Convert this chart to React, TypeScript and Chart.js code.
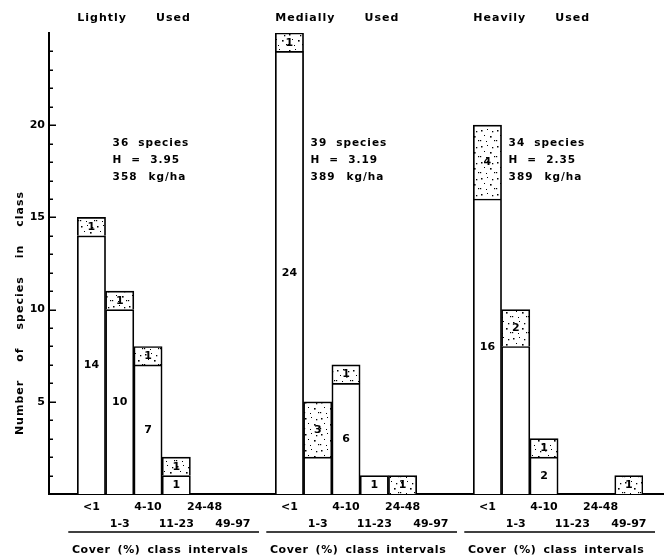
import { useEffect, useRef } from "react";
import { Chart, registerables } from "chart.js";

Chart.register(...registerables);

// ---- data ----
const groupTitles = [
  ["Lightly", "Used"],
  ["Medially", "Used"],
  ["Heavily", "Used"],
];
const coverClasses = ["<1", "1-3", "4-10", "11-23", "24-48", "49-97"];

const lightlyWhite = [14, 10, 7, 1, 0, 0];
const lightlyStipple = [1, 1, 1, 1, 0, 0];
const mediallyWhite = [24, 2, 6, 1, 0, 0];
const mediallyStipple = [1, 3, 1, 0, 1, 0];
const heavilyWhite = [16, 8, 2, 0, 0, 0];
const heavilyStipple = [4, 2, 1, 0, 0, 1];

const lightlyWhiteLabels = ["14", "10", "7", "1", "", ""];
const mediallyWhiteLabels = ["24", "", "6", "1", "", ""];
const heavilyWhiteLabels = ["16", "", "2", "", "", ""];

const speciesCounts = ["36", "39", "34"];
const diversityH = ["3.95", "3.19", "2.35"];
const biomass = ["358", "389", "389"];

const yLabelledTicks = [5, 10, 15, 20];
const yMax = 25;
const yAxisTitle = ["Number", "of", "species", "in", "class"];
const xAxisTitle = ["Cover", "(%)", "class", "intervals"];

// ---- build slots: one empty lead slot, groups of 6 separated by one empty slot ----
const whiteGroups = [lightlyWhite, mediallyWhite, heavilyWhite];
const stippleGroups = [lightlyStipple, mediallyStipple, heavilyStipple];
const whiteLabelGroups = [lightlyWhiteLabels, mediallyWhiteLabels, heavilyWhiteLabels];

const slotLabels: (string | string[])[] = [""];
const whiteData: (number | null)[] = [null];
const stippleData: (number | null)[] = [null];
const whiteText: string[] = [""];
const stippleText: string[] = [""];
const groupStart: number[] = [];
whiteGroups.forEach((wg, g) => {
  if (g > 0) {
    slotLabels.push("");
    whiteData.push(null);
    stippleData.push(null);
    whiteText.push("");
    stippleText.push("");
  }
  groupStart.push(slotLabels.length);
  coverClasses.forEach((c, k) => {
    slotLabels.push(k % 2 === 0 ? [c] : ["", c]);
    whiteData.push(wg[k] > 0 ? wg[k] : null);
    stippleData.push(stippleGroups[g][k] > 0 ? stippleGroups[g][k] : null);
    whiteText.push(whiteLabelGroups[g][k]);
    stippleText.push(stippleGroups[g][k] > 0 ? String(stippleGroups[g][k]) : "");
  });
});

const FONT = "DejaVu Sans";

function makeStipple(): CanvasPattern | string {
  const c = document.createElement("canvas");
  c.width = 16;
  c.height = 16;
  const x = c.getContext("2d");
  if (!x) return "#eee";
  x.fillStyle = "#ffffff";
  x.fillRect(0, 0, 16, 16);
  x.fillStyle = "#000000";
  const dots = [
    [1, 2, 1.5], [7, 1, 1], [12, 3, 1.3], [4, 7, 1], [10, 8, 1.6],
    [0, 12, 1.2], [6, 13, 1], [14, 12, 1.2],
  ];
  dots.forEach(([dx, dy, r]) => x.fillRect(dx, dy, r, r));
  const p = x.createPattern(c, "repeat");
  return p || "#eee";
}

function drawWords(ctx: CanvasRenderingContext2D, words: string[], x: number, y: number, gap: number, align: "left" | "center") {
  const widths = words.map((w) => ctx.measureText(w).width);
  const total = widths.reduce((a, b) => a + b, 0) + gap * (words.length - 1);
  let cx = align === "center" ? x - total / 2 : x;
  ctx.textAlign = "left";
  words.forEach((w, i) => {
    ctx.fillText(w, cx, y);
    cx += widths[i] + gap;
  });
}

const overlay = {
  id: "overlay",
  afterDraw(chart: any) {
    const ctx: CanvasRenderingContext2D = chart.ctx;
    const ca = chart.chartArea;
    const xs = chart.scales.x;
    const ys = chart.scales.y;
    ctx.save();
    ctx.fillStyle = "#000";
    ctx.strokeStyle = "#000";

    // baseline extension to the right edge
    const by = Math.round(ca.bottom);
    ctx.lineWidth = 2;
    ctx.beginPath();
    ctx.moveTo(ca.right - 1, by);
    ctx.lineTo(chart.width, by);
    ctx.stroke();

    // inward ticks on y axis
    ctx.lineWidth = 1.5;
    for (let v = 1; v < yMax; v++) {
      const py = Math.round(ys.getPixelForValue(v)) + 0.25;
      const len = yLabelledTicks.includes(v) ? 7 : 4;
      ctx.beginPath();
      ctx.moveTo(ca.left, py);
      ctx.lineTo(ca.left + len, py);
      ctx.stroke();
    }

    const slotW = xs.getPixelForValue(1) - xs.getPixelForValue(0);
    ctx.textBaseline = "middle";

    groupStart.forEach((s0, g) => {
      const left = xs.getPixelForValue(s0) - slotW / 2;
      const right = xs.getPixelForValue(s0 + 5) + slotW / 2;

      // group title
      (ctx as any).letterSpacing = "1px";
      ctx.font = `bold 11px "${FONT}"`;
      const [w1, w2] = groupTitles[g];
      ctx.textAlign = "left";
      ctx.fillText(w1, left, 18);
      ctx.fillText(w2, left + ctx.measureText(w1).width + 29, 18);

      // annotation block
      ctx.font = `bold 10.5px "${FONT}"`;
      const ax = left + slotW + 7;
      drawWords(ctx, [speciesCounts[g], "species"], ax, ca.top + 110, 9, "left");
      drawWords(ctx, ["H", "=", diversityH[g]], ax, ca.top + 127, 9, "left");
      drawWords(ctx, [biomass[g], "kg/ha"], ax, ca.top + 144, 11, "left");

      // underline + x title
      ctx.lineWidth = 1.5;
      ctx.beginPath();
      ctx.moveTo(left - 9, 532);
      ctx.lineTo(right + 12, 532);
      ctx.stroke();
      (ctx as any).letterSpacing = "0.6px";
      ctx.font = `bold 11px "${FONT}"`;
      drawWords(ctx, xAxisTitle, (left + right) / 2 - 2, 550, 7, "center");
    });

    // bar labels
    ctx.font = `bold 11px "${FONT}"`;
    (ctx as any).letterSpacing = "0px";
    const texts = [whiteText, stippleText];
    [0, 1].forEach((di) => {
      const meta = chart.getDatasetMeta(di);
      meta.data.forEach((el: any, j: number) => {
        const t = texts[di][j];
        const v = chart.data.datasets[di].data[j];
        if (!t || v == null) return;
        const p = el.getProps(["x", "y", "base"], true);
        ctx.textAlign = "center";
        ctx.fillText(t, p.x, (p.y + p.base) / 2 + 0.5);
      });
    });

    // y axis title
    ctx.save();
    ctx.translate(20, 313);
    ctx.rotate(-Math.PI / 2);
    ctx.font = `bold 11px "${FONT}"`;
    (ctx as any).letterSpacing = "1px";
    drawWords(ctx, yAxisTitle, 0, 0, 18, "center");
    ctx.restore();

    ctx.restore();
  },
};

export default function App() {
  const ref = useRef<HTMLCanvasElement | null>(null);
  useEffect(() => {
    document.body.style.margin = "0";
    const canvas = ref.current;
    if (!canvas) return;
    const stipple = makeStipple();
    const chart = new Chart(canvas, {
      type: "bar",
      data: {
        labels: slotLabels as any,
        datasets: [
          {
            label: "white",
            data: whiteData,
            backgroundColor: "#ffffff",
            borderColor: "#000000",
            borderWidth: 1.7,
            borderSkipped: "start",
            stack: "s",
            barPercentage: 1,
            categoryPercentage: 1,
          },
          {
            label: "stipple",
            data: stippleData,
            backgroundColor: stipple as any,
            borderColor: "#000000",
            borderWidth: 1.7,
            borderSkipped: "start",
            stack: "s",
            barPercentage: 1,
            categoryPercentage: 1,
          },
        ],
      },
      options: {
        responsive: false,
        animation: false,
        devicePixelRatio: 1,
        layout: { padding: { left: 0, right: 21, top: 33, bottom: 0 } },
        plugins: { legend: { display: false }, tooltip: { enabled: false }, title: { display: false } },
        scales: {
          x: {
            type: "category",
            stacked: true,
            grid: { display: false, drawTicks: false },
            border: { display: true, color: "#000", width: 2 },
            ticks: {
              color: "#000",
              font: { family: FONT, size: 11, weight: "bold", lineHeight: 1.5 },
              maxRotation: 0,
              minRotation: 0,
              autoSkip: false,
              padding: 5,
            },
            afterFit: (s: any) => {
              s.height = 64;
            },
          },
          y: {
            type: "linear",
            stacked: true,
            min: 0,
            max: yMax,
            grid: { display: false, drawTicks: false },
            border: { display: true, color: "#000", width: 2 },
            ticks: {
              stepSize: 1,
              autoSkip: false,
              color: "#000",
              padding: 4,
              font: { family: FONT, size: 11, weight: "bold" },
              callback: (v: any) => (yLabelledTicks.includes(Number(v)) ? String(v) : ""),
            },
            afterFit: (s: any) => {
              s.width = 49;
            },
          },
        },
      },
      plugins: [overlay],
    });
    return () => chart.destroy();
  }, []);
  return (
    <div style={{ width: 664, height: 558 }}>
      <canvas ref={ref} width={664} height={558} style={{ display: "block" }} />
    </div>
  );
}
